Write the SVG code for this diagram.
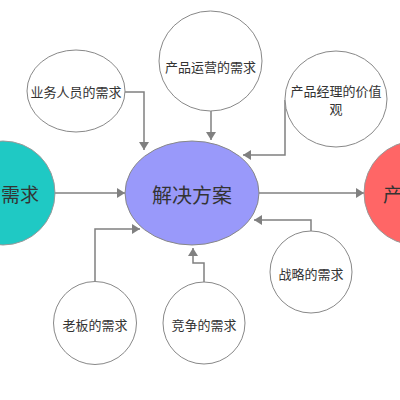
<svg xmlns="http://www.w3.org/2000/svg" width="400" height="400" viewBox="0 0 400 400">
<style>
text{font-family:"Noto Sans CJK SC","Liberation Sans",sans-serif;fill:#333;text-anchor:middle;dominant-baseline:central}
.n{fill:#fff;stroke:#888;stroke-width:1}
.s{font-size:13px}
.c{fill:none;stroke:#808080;stroke-width:1.5;marker-end:url(#a)}
</style>
<defs>
<marker id="a" viewBox="0 0 8 10" refX="8" refY="5" markerWidth="8" markerHeight="10" markerUnits="userSpaceOnUse" orient="auto">
<path d="M0,0 L8,5 L0,10 z" fill="#808080"/>
</marker>
</defs>
<rect width="400" height="400" fill="#fff"/>
<g id="connectors">
<path class="c" d="M55,193 H125"/>
<path class="c" d="M259,193 H364"/>
<path class="c" d="M125,92 H144 V150"/>
<path class="c" d="M211,110 V140"/>
<path class="c" d="M285,100 V155 H243"/>
<path class="c" d="M311,231 V220 H254"/>
<path class="c" d="M95,282 V229 H140"/>
<path class="c" d="M204,282 V263 H193 V248"/>
</g>
<g id="n-left">
<circle cx="3" cy="193" r="52" fill="#1fc9c4" stroke="#999" stroke-width="1"/>
<text x="39" y="193" style="font-size:19px;text-anchor:end">需求</text>
</g>
<g id="n-right">
<circle cx="416" cy="193" r="52" fill="#ff6666" stroke="#999" stroke-width="1"/>
<text x="383" y="193" style="font-size:19px;text-anchor:start">产</text>
</g>
<g id="n-center">
<ellipse cx="192" cy="193" rx="67" ry="52" fill="#9999fa" stroke="#888" stroke-width="1"/>
<text x="192" y="194" style="font-size:20px">解决方案</text>
</g>
<g id="n-yewu">
<ellipse class="n" cx="76" cy="91" rx="49" ry="41"/>
<text class="s" x="76" y="91">业务人员的需求</text>
</g>
<g id="n-yunying">
<ellipse class="n" cx="210.5" cy="61" rx="51.5" ry="50"/>
<text class="s" x="210.5" y="66">产品运营的需求</text>
</g>
<g id="n-jiazhi">
<ellipse class="n" cx="336" cy="99" rx="51" ry="48"/>
<text class="s" x="336" y="90">产品经理的价值</text>
<text class="s" x="336" y="108">观</text>
</g>
<g id="n-zhanlue">
<circle class="n" cx="311" cy="272" r="41"/>
<text class="s" x="311" y="273">战略的需求</text>
</g>
<g id="n-laoban">
<circle class="n" cx="95" cy="323" r="41.5"/>
<text class="s" x="95" y="324">老板的需求</text>
</g>
<g id="n-jingzheng">
<circle class="n" cx="204" cy="323" r="41"/>
<text class="s" x="204" y="324">竞争的需求</text>
</g>
</svg>
